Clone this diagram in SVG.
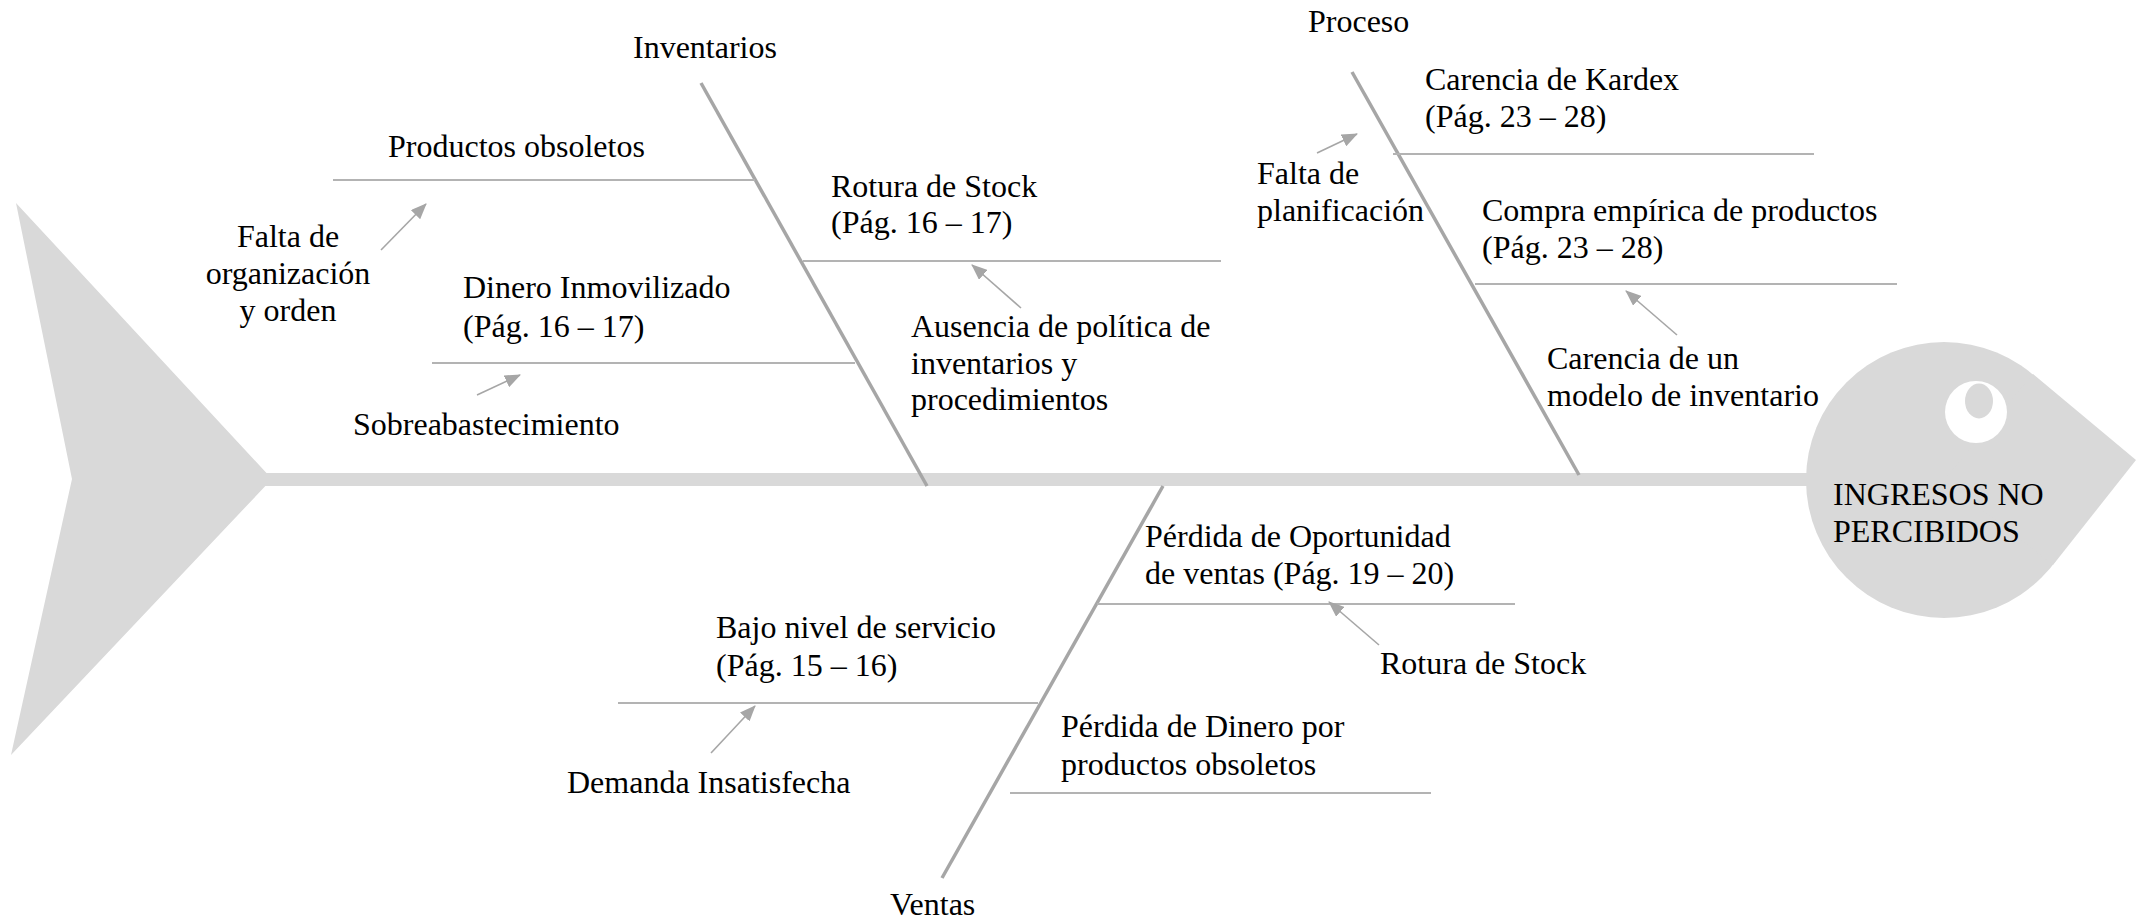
<svg xmlns="http://www.w3.org/2000/svg" width="2145" height="920" viewBox="0 0 2145 920">
<style>
text{font-family:"Liberation Serif","Times New Roman",serif;font-size:32px;fill:#000}
.mid{text-anchor:middle}
.fish{fill:#d9d9d9;stroke:none}
.bone{stroke:#a6a6a6;stroke-width:3.5;fill:none}
.sub{stroke:#b3b3b3;stroke-width:2;fill:none}
.arr{stroke:#a6a6a6;stroke-width:1.6;fill:none;marker-end:url(#ah)}
</style>
<defs>
<marker id="ah" markerUnits="userSpaceOnUse" markerWidth="16" markerHeight="13" refX="15" refY="6.5" orient="auto">
<path d="M0,0 L16,6.5 L0,13 Z" fill="#a6a6a6"/>
</marker>
</defs>
<rect width="2145" height="920" fill="#fff"/>
<g id="tail"><polygon class="fish" points="16,203 272,479 11,755 72,479"/></g>
<g id="head">
<circle class="fish" cx="1944" cy="480" r="138"/>
<polygon class="fish" points="2033,374 2136,460 2053,565 1944,480"/>
<ellipse cx="1976" cy="412" rx="31" ry="31" fill="#fff"/>
<ellipse cx="1979" cy="401" rx="14" ry="17.5" fill="#d9d9d9"/>
<text x="1833" y="505">INGRESOS NO</text>
<text x="1833" y="542">PERCIBIDOS</text>
</g>
<g id="connectors">
<line x1="265" y1="479.5" x2="1815" y2="479.5" stroke="#d9d9d9" stroke-width="13"/>
<line class="bone" x1="701" y1="83" x2="927" y2="486"/>
<line class="bone" x1="1352" y1="72" x2="1579" y2="475"/>
<line class="bone" x1="1163" y1="486" x2="942" y2="878"/>
<line class="sub" x1="333" y1="180" x2="755" y2="180"/>
<line class="sub" x1="432" y1="363" x2="855" y2="363"/>
<line class="sub" x1="803" y1="261" x2="1221" y2="261"/>
<line class="sub" x1="1393" y1="154" x2="1814" y2="154"/>
<line class="sub" x1="1475" y1="284" x2="1897" y2="284"/>
<line class="sub" x1="1097" y1="604" x2="1515" y2="604"/>
<line class="sub" x1="618" y1="703" x2="1038" y2="703"/>
<line class="sub" x1="1010" y1="793" x2="1431" y2="793"/>
<line class="arr" x1="381" y1="250" x2="426" y2="204"/>
<line class="arr" x1="477" y1="395" x2="520" y2="375"/>
<line class="arr" x1="1021" y1="308" x2="972" y2="265"/>
<line class="arr" x1="1317" y1="153" x2="1357" y2="134"/>
<line class="arr" x1="1677" y1="335" x2="1626" y2="291"/>
<line class="arr" x1="1379" y1="645" x2="1329" y2="602"/>
<line class="arr" x1="711" y1="753" x2="755" y2="706"/>
</g>
<g id="inventarios"><text x="633" y="58">Inventarios</text></g>
<g id="productos-obsoletos"><text x="388" y="157">Productos obsoletos</text></g>
<g id="falta-organizacion"><text class="mid" x="288" y="247">Falta de</text><text class="mid" x="288" y="284">organización</text><text class="mid" x="288" y="321">y orden</text></g>
<g id="dinero-inmovilizado"><text x="463" y="298">Dinero Inmovilizado</text><text x="463" y="337">(Pág. 16 – 17)</text></g>
<g id="sobreabastecimiento"><text x="353" y="435">Sobreabastecimiento</text></g>
<g id="rotura-stock-1"><text x="831" y="197">Rotura de Stock</text><text x="831" y="233">(Pág. 16 – 17)</text></g>
<g id="ausencia-politica"><text x="911" y="337">Ausencia de política de</text><text x="911" y="374">inventarios y</text><text x="911" y="410">procedimientos</text></g>
<g id="proceso"><text x="1308" y="32">Proceso</text></g>
<g id="falta-planificacion"><text x="1257" y="184">Falta de</text><text x="1257" y="221">planificación</text></g>
<g id="carencia-kardex"><text x="1425" y="90">Carencia de Kardex</text><text x="1425" y="127">(Pág. 23 – 28)</text></g>
<g id="compra-empirica"><text x="1482" y="221">Compra empírica de productos</text><text x="1482" y="258">(Pág. 23 – 28)</text></g>
<g id="carencia-modelo"><text x="1547" y="369">Carencia de un</text><text x="1547" y="406">modelo de inventario</text></g>
<g id="perdida-oportunidad"><text x="1145" y="547">Pérdida de Oportunidad</text><text x="1145" y="584">de ventas (Pág. 19 – 20)</text></g>
<g id="rotura-stock-2"><text x="1380" y="674">Rotura de Stock</text></g>
<g id="bajo-nivel"><text x="716" y="638">Bajo nivel de servicio</text><text x="716" y="676">(Pág. 15 – 16)</text></g>
<g id="perdida-dinero"><text x="1061" y="737">Pérdida de Dinero por</text><text x="1061" y="775">productos obsoletos</text></g>
<g id="demanda"><text x="567" y="793">Demanda Insatisfecha</text></g>
<g id="ventas"><text x="890" y="915">Ventas</text></g>
</svg>
